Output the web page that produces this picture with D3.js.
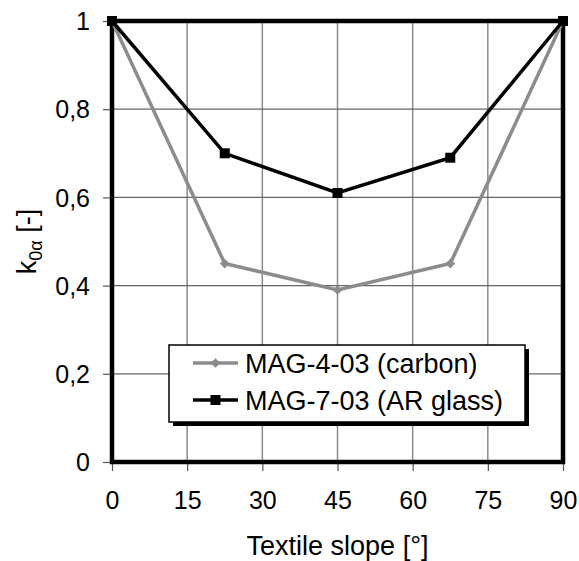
<!DOCTYPE html>
<html>
<head>
<meta charset="utf-8">
<script src="https://cdn.jsdelivr.net/npm/d3@7"></script>
<style>
  body { margin: 0; background: #fff; }
  text { font-family: "Liberation Sans", Arial, sans-serif; fill: #000; }
</style>
</head>
<body>
<div id="chart"></div>
<script>
// data
const slopes = [0, 22.5, 45, 67.5, 90];
const carbon = [1, 0.45, 0.39, 0.45, 1];
const arGlass = [1, 0.70, 0.61, 0.69, 1];
const seriesNames = ["MAG-4-03 (carbon)", "MAG-7-03 (AR glass)"];
const xTicks = [0, 15, 30, 45, 60, 75, 90];
const yTicks = [0, 0.2, 0.4, 0.6, 0.8, 1];

const svgWidth = 579;
const svgHeight = 561;
const margin = { t: 21, r: 16, b: 99, l: 112 };
const width = svgWidth - margin.l - margin.r;
const height = svgHeight - margin.t - margin.b;

const svg = d3.select("#chart").append("svg")
  .attr("width", svgWidth)
  .attr("height", svgHeight);

const chartGroup = svg.append("g")
  .attr("transform", `translate(${margin.l}, ${margin.t})`);

const x = d3.scaleLinear().domain([0, 90]).range([0, width]);
const y = d3.scaleLinear().domain([0, 1]).range([height, 0]);

// grid
chartGroup.append("g").selectAll("line")
  .data(xTicks)
  .enter().append("line")
  .attr("x1", d => x(d)).attr("x2", d => x(d))
  .attr("y1", 0).attr("y2", height)
  .attr("stroke", "#8a8a8a").attr("stroke-width", 1.5);

chartGroup.append("g").selectAll("line")
  .data(yTicks)
  .enter().append("line")
  .attr("x1", 0).attr("x2", width)
  .attr("y1", d => y(d)).attr("y2", d => y(d))
  .attr("stroke", "#666").attr("stroke-width", 1.2);

// axes
const fmt = d => String(d).replace(".", ",");
const xAxis = chartGroup.append("g")
  .attr("transform", `translate(0,${height})`)
  .call(d3.axisBottom(x).tickValues(xTicks).tickSize(9).tickPadding(20).tickFormat(d => d));
const yAxis = chartGroup.append("g")
  .call(d3.axisLeft(y).tickValues(yTicks).tickSize(9).tickPadding(13).tickFormat(fmt));

[xAxis, yAxis].forEach(a => {
  a.select(".domain").remove();
  a.selectAll(".tick line").attr("stroke", "#555").attr("stroke-width", 1.2);
  a.selectAll(".tick text").attr("font-size", "25px")
    .attr("font-family", "Liberation Sans, Arial, sans-serif").attr("fill", "#000");
});
yAxis.selectAll(".tick text").attr("dy", "0.35em");

// frame
chartGroup.append("rect")
  .attr("width", width).attr("height", height)
  .attr("fill", "none").attr("stroke", "#000").attr("stroke-width", 4.5);

// lines
const line = vals => d3.line()
  .x((d, i) => x(slopes[i]))
  .y(d => y(d))(vals);

chartGroup.append("path")
  .attr("d", line(carbon))
  .attr("fill", "none").attr("stroke", "#8c8c8c").attr("stroke-width", 3.5);
chartGroup.append("g").selectAll("path")
  .data(carbon)
  .enter().append("path")
  .attr("d", d3.symbol(d3.symbolDiamond2, 60))
  .attr("transform", (d, i) => `translate(${x(slopes[i])},${y(d)})`)
  .attr("fill", "#8c8c8c");

chartGroup.append("path")
  .attr("d", line(arGlass))
  .attr("fill", "none").attr("stroke", "#000").attr("stroke-width", 3.5);
chartGroup.append("g").selectAll("rect")
  .data(arGlass)
  .enter().append("rect")
  .attr("x", (d, i) => x(slopes[i]) - 5)
  .attr("y", d => y(d) - 5)
  .attr("width", 10).attr("height", 10)
  .attr("fill", "#000");

// legend
const legend = svg.append("g").attr("transform", "translate(169,345)");
legend.append("rect")
  .attr("x", 4).attr("y", 4).attr("width", 356).attr("height", 77)
  .attr("fill", "#000");
legend.append("rect")
  .attr("width", 356).attr("height", 77)
  .attr("fill", "#fff").attr("stroke", "#000").attr("stroke-width", 1.5);

const rows = [
  { name: seriesNames[0], color: "#8c8c8c", square: false },
  { name: seriesNames[1], color: "#000", square: true }
];
rows.forEach((r, i) => {
  const cy = 18 + i * 37;
  legend.append("line")
    .attr("x1", 24).attr("x2", 69).attr("y1", cy).attr("y2", cy)
    .attr("stroke", r.color).attr("stroke-width", 3.5);
  if (r.square) {
    legend.append("rect").attr("x", 41.5).attr("y", cy - 5)
      .attr("width", 10).attr("height", 10).attr("fill", r.color);
  } else {
    legend.append("path").attr("d", d3.symbol(d3.symbolDiamond2, 60))
      .attr("transform", `translate(46.5,${cy})`).attr("fill", r.color);
  }
  legend.append("text")
    .attr("x", 76).attr("y", cy).attr("dy", "0.36em")
    .attr("font-size", "27px")
    .text(r.name);
});

// axis titles
svg.append("text")
  .attr("x", margin.l + width / 2).attr("y", 555)
  .attr("text-anchor", "middle")
  .attr("font-size", "27px")
  .text("Textile slope [°]");

const yLabel = svg.append("text")
  .attr("transform", `translate(36,${margin.t + height / 2})rotate(-90)`)
  .attr("text-anchor", "middle")
  .attr("font-size", "27px");
yLabel.append("tspan").text("k");
yLabel.append("tspan").attr("font-size", "18px").attr("dy", 6).text("0α");
yLabel.append("tspan").attr("dy", -6).text(" [-]");
</script>
</body>
</html>
